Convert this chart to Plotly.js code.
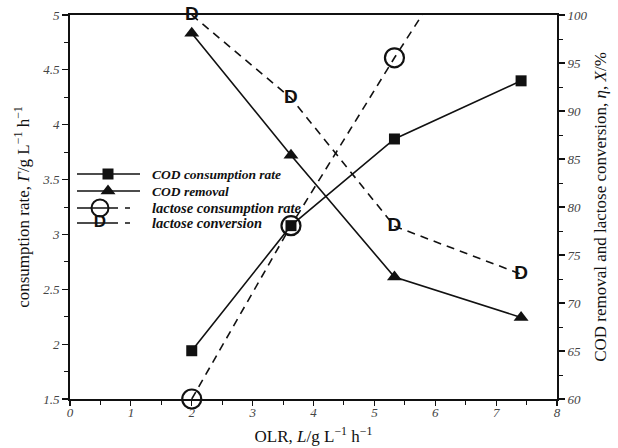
<!DOCTYPE html>
<html>
<head>
<meta charset="utf-8">
<script src="https://cdn.plot.ly/plotly-3.0.1.min.js"></script>
<style>html,body{margin:0;padding:0;background:#fff;}#chart{width:618px;height:448px;}</style>
</head>
<body>
<div id="chart"></div>
<script>
// ---- data ----
const olr = [2.0, 3.63, 5.33, 7.41];
const codRate = [1.94, 3.08, 3.87, 4.40];          // left axis, g L-1 h-1
const codRemoval = [98.1, 85.4, 72.7, 68.5];       // right axis, %
const lactoseRate = [1.5, 3.08, 4.61, 6.4];        // left axis, last point off-scale
const lactoseConv = [100, 91.35, 78.0, 73.0];      // right axis, %
const legendLabels = ['COD consumption rate', 'COD removal', 'lactose consumption rate', 'lactose conversion'];

const serif = 'Liberation Serif, Times New Roman, serif';
const black = '#111';
const dash = '8px,6px';

const traces = [
  {x: olr, y: codRate, mode: 'lines+markers', xaxis: 'x', yaxis: 'y', cliponaxis: false,
   line: {color: black, width: 1.6}, marker: {symbol: 'square', size: 11, color: black}},
  {x: olr, y: codRemoval, mode: 'lines+markers', xaxis: 'x', yaxis: 'y2', cliponaxis: false,
   line: {color: black, width: 1.6}, marker: {symbol: 'triangle-up', size: 13, color: black}},
  {x: olr, y: lactoseRate, mode: 'lines', xaxis: 'x', yaxis: 'y',
   line: {color: black, width: 1.6, dash: dash}},
  {x: olr, y: lactoseRate, mode: 'markers', xaxis: 'x', yaxis: 'y', cliponaxis: false,
   marker: {symbol: 'circle-open', size: 19, color: black, line: {width: 2.2, color: black}}},
  {x: olr, y: lactoseConv, mode: 'lines', xaxis: 'x', yaxis: 'y2',
   line: {color: black, width: 1.6, dash: dash}},
  {x: olr, y: lactoseConv, mode: 'text', text: olr.map(() => 'D'), textposition: 'middle center',
   xaxis: 'x', yaxis: 'y2', cliponaxis: false,
   textfont: {family: 'Liberation Sans, Arial, sans-serif', size: 19, color: black, weight: 'bold'}}
];

// ---- legend drawn on an overlay axis pair (units ~ pixels of the plot area) ----
const legRowY = [225, 208, 191, 176];
const legX0 = 7, legX1 = 70, legMark = 38, legMarkD = 30, legText = 80;
const legendStyles = [
  {line: {color: black, width: 1.6}, marker: {symbol: 'square', size: 11, color: black}},
  {line: {color: black, width: 1.6}, marker: {symbol: 'triangle-up', size: 13, color: black}},
  {line: {color: black, width: 1.6, dash: '41px,7px,5px,30px'}, marker: {symbol: 'circle-open', size: 17, color: black, line: {width: 2, color: black}}},
  {line: {color: black, width: 1.6, dash: '41px,7px,5px,30px'}}
];
legendStyles.forEach((s, i) => {
  traces.push({x: [legX0, legX1], y: [legRowY[i], legRowY[i]], mode: 'lines', xaxis: 'x3', yaxis: 'y3',
    line: s.line, hoverinfo: 'skip'});
  if (s.marker) {
    traces.push({x: [i < 2 ? legMark : legMarkD], y: [legRowY[i]], mode: 'markers', xaxis: 'x3', yaxis: 'y3',
      marker: s.marker, hoverinfo: 'skip'});
  }
});
traces.push({x: [legMarkD], y: [legRowY[3]], mode: 'text', text: ['D'], textposition: 'middle center',
  xaxis: 'x3', yaxis: 'y3', textfont: {family: 'Liberation Sans, Arial, sans-serif', size: 17, color: black, weight: 'bold'}});

const annotations = legendLabels.map((t, i) => ({
  xref: 'x3', yref: 'y3', x: legText, y: legRowY[i], xanchor: 'left', yanchor: 'middle',
  text: '<b><i>' + t + '</i></b>', showarrow: false,
  font: {family: serif, size: i < 2 ? 13.5 : 14.5, color: black}
}));

const tickFont = {family: serif, size: 13, color: '#444', style: 'italic'};
const titleFont = {family: serif, size: 17, color: black};

const layout = {
  width: 618, height: 448,
  margin: {l: 70, r: 61, t: 15, b: 49},
  paper_bgcolor: '#fff', plot_bgcolor: '#fff',
  showlegend: false,
  annotations: annotations,
  xaxis: {
    range: [0, 8], dtick: 1, tick0: 0, showgrid: false, zeroline: false,
    showline: true, linecolor: black, linewidth: 2, mirror: true,
    ticks: 'outside', ticklen: 5, tickwidth: 1.2, tickcolor: black,
    minor: {dtick: 0.5, ticks: 'outside', ticklen: 4, tickcolor: black, tickwidth: 1},
    tickfont: tickFont, ticklabelstandoff: -5,
    title: {text: 'OLR, <i>L</i>/g L<sup>−1</sup> h<sup>−1</sup>', font: titleFont, standoff: 12}
  },
  yaxis: {
    range: [1.5, 5], dtick: 0.5, tick0: 0, showgrid: false, zeroline: false,
    showline: true, linecolor: black, linewidth: 2,
    ticks: 'outside', ticklen: 6, tickwidth: 1.2, tickcolor: black,
    minor: {dtick: 0.25, ticks: 'outside', ticklen: 4, tickcolor: black, tickwidth: 1},
    tickfont: tickFont,
    title: {text: 'consumption rate, <i>Γ</i>/g L<sup>−1</sup> h<sup>−1</sup>', font: titleFont, standoff: 8}
  },
  yaxis2: {
    range: [60, 100], dtick: 5, tick0: 0, overlaying: 'y', side: 'right', anchor: 'x',
    showgrid: false, zeroline: false, showline: true, linecolor: black, linewidth: 2,
    ticks: 'outside', ticklen: 6, tickwidth: 1.2, tickcolor: black,
    minor: {dtick: 2.5, ticks: 'outside', ticklen: 4, tickcolor: black, tickwidth: 1},
    tickfont: tickFont,
    title: {text: 'COD removal and lactose conversion, <i>η</i>, <i>X</i>/%', font: titleFont, standoff: 8}
  },
  xaxis3: {overlaying: 'x', range: [0, 487], visible: false, fixedrange: true},
  yaxis3: {overlaying: 'y', anchor: 'x3', range: [0, 384], visible: false, fixedrange: true}
};

Plotly.newPlot('chart', traces, layout, {displayModeBar: false, staticPlot: true});
</script>
</body>
</html>
